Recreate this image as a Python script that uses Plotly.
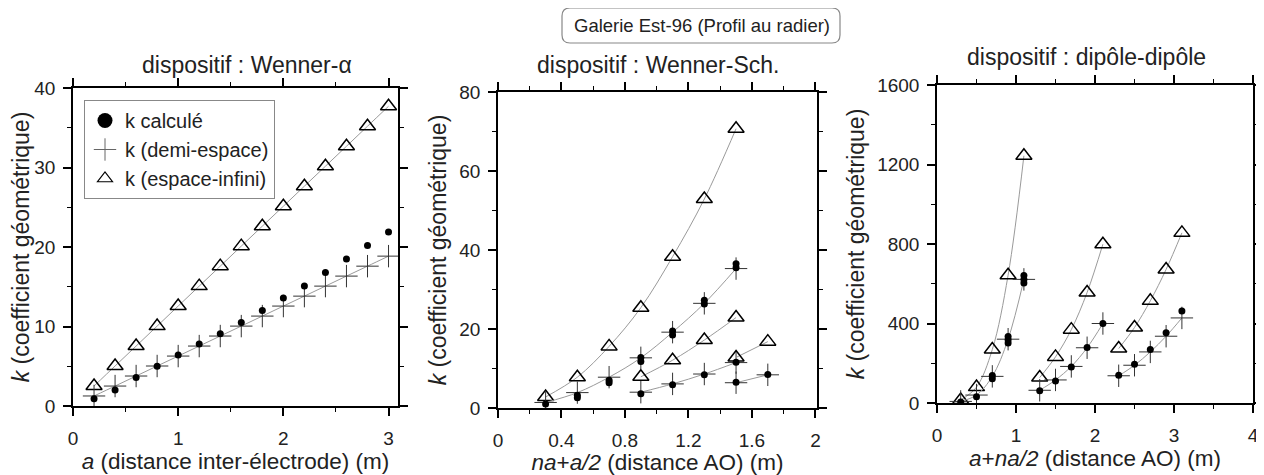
import plotly.graph_objects as go

# Wenner-alpha
a_wa = [0.2, 0.4, 0.6, 0.8, 1.0, 1.2, 1.4, 1.6, 1.8, 2.0, 2.2, 2.4, 2.6, 2.8, 3.0]
k_wa_calc = [0.9, 2.0, 3.6, 5.0, 6.4, 7.8, 9.1, 10.5, 12.0, 13.6, 15.1, 16.8, 18.5, 20.2, 21.9]
k_wa_demi = [1.26, 2.51, 3.77, 5.03, 6.28, 7.54, 8.8, 10.05, 11.31, 12.57, 13.82, 15.08, 16.34, 17.59, 18.85]
k_wa_inf = [2.51, 5.03, 7.54, 10.05, 12.57, 15.08, 17.59, 20.11, 22.62, 25.13, 27.65, 30.16, 32.67, 35.19, 37.7]

# Wenner-Schlumberger (3 groupes)
x_ws1 = [0.3, 0.5, 0.7, 0.9, 1.1, 1.3, 1.5]
k_ws1_inf = [2.8, 7.8, 15.6, 25.4, 38.3, 52.9, 70.7]
k_ws1_demi = [1.4, 3.9, 7.8, 12.7, 19.2, 26.5, 35.3]
x_ws1_calc = [0.3, 0.5, 0.5, 0.7, 0.7, 0.9, 0.9, 1.1, 1.1, 1.3, 1.3, 1.5, 1.5]
k_ws1_calc = [1.0, 2.6, 3.2, 6.4, 7.0, 11.8, 12.8, 18.5, 19.5, 26.3, 27.3, 35.5, 36.5]
x_ws2 = [0.9, 1.1, 1.3, 1.5]
k_ws2_inf = [7.9, 12.1, 17.2, 22.9]
k_ws2_demi = [4.0, 6.1, 8.6, 11.5]
k_ws2_calc = [3.6, 5.9, 8.4, 11.6]
x_ws3 = [1.5, 1.7]
k_ws3_inf = [12.8, 16.8]
k_ws3_demi = [6.4, 8.4]
k_ws3_calc = [6.5, 8.5]

# dipole-dipole (3 groupes)
x_dd1 = [0.3, 0.5, 0.7, 0.9, 1.1]
k_dd1_inf = [15, 80, 269, 643, 1244]
k_dd1_demi = [8, 40, 134, 321, 622]
x_dd1_calc = [0.3, 0.5, 0.7, 0.7, 0.9, 0.9, 0.9, 1.1, 1.1, 1.1]
k_dd1_calc = [5, 32, 122, 138, 302, 318, 334, 604, 622, 642]
x_dd2 = [1.3, 1.5, 1.7, 1.9, 2.1]
k_dd2_inf = [128, 232, 369, 556, 799]
k_dd2_demi = [64, 116, 184, 278, 400]
k_dd2_calc = [62, 111, 181, 279, 400]
x_dd3 = [2.3, 2.5, 2.7, 2.9, 3.1]
k_dd3_inf = [274, 380, 514, 672, 856]
k_dd3_demi = [137, 190, 257, 336, 428]
k_dd3_calc = [139, 195, 269, 353, 463]

# the page body has an 8px margin, so the figure is 8px smaller than the window
OFF = 8
W, H = 1264 - OFF, 475 - OFF
FONT = "Liberation Sans, Arial, sans-serif"
GREY = "#9a9a9a"
PLUS = "#333333"

fig = go.Figure()


def add_group(x, k_inf, k_demi, xc, kc, n):
    xa, ya = "x" + ("" if n == 1 else str(n)), "y" + ("" if n == 1 else str(n))
    fig.add_trace(go.Scatter(x=x, y=k_inf, xaxis=xa, yaxis=ya, mode="lines+markers",
                             line=dict(color=GREY, width=1, shape="spline"),
                             marker=dict(symbol="triangle-up-open", size=14, color="black",
                                         line=dict(width=1.5, color="black")),
                             showlegend=False))
    fig.add_trace(go.Scatter(x=x, y=k_demi, xaxis=xa, yaxis=ya, mode="lines+markers",
                             line=dict(color=GREY, width=1, shape="spline"),
                             marker=dict(symbol="cross-thin-open", size=16, color=PLUS,
                                         line=dict(width=1, color=PLUS)),
                             showlegend=False))
    fig.add_trace(go.Scatter(x=xc, y=kc, xaxis=xa, yaxis=ya, mode="markers",
                             marker=dict(symbol="circle", size=7, color="black"),
                             showlegend=False))


add_group(a_wa, k_wa_inf, k_wa_demi, a_wa, k_wa_calc, 1)
add_group(x_ws1, k_ws1_inf, k_ws1_demi, x_ws1_calc, k_ws1_calc, 2)
add_group(x_ws2, k_ws2_inf, k_ws2_demi, x_ws2, k_ws2_calc, 2)
add_group(x_ws3, k_ws3_inf, k_ws3_demi, x_ws3, k_ws3_calc, 2)
add_group(x_dd1, k_dd1_inf, k_dd1_demi, x_dd1_calc, k_dd1_calc, 3)
add_group(x_dd2, k_dd2_inf, k_dd2_demi, x_dd2, k_dd2_calc, 3)
add_group(x_dd3, k_dd3_inf, k_dd3_demi, x_dd3, k_dd3_calc, 3)

# legend only entries
fig.add_trace(go.Scatter(x=[None], y=[None], mode="markers", name="k calculé",
                         marker=dict(symbol="circle", size=15, color="black")))
fig.add_trace(go.Scatter(x=[None], y=[None], mode="markers", name="k (demi-espace)",
                         marker=dict(symbol="cross-thin-open", size=16, color="#666666",
                                     line=dict(width=1, color="#666666"))))
fig.add_trace(go.Scatter(x=[None], y=[None], mode="markers", name="k (espace-infini)",
                         marker=dict(symbol="triangle-up-open", size=13, color="black",
                                     line=dict(width=1.2, color="black"))))


def px_x(p):
    return (p - OFF) / W


def px_y(p):
    return 1 - (p - OFF) / H


def common(dtick):
    return dict(dtick=dtick, tick0=0, automargin=False,
                showgrid=False, zeroline=False, showline=True, linecolor="black", linewidth=1.5,
                mirror="allticks", ticks="outside", ticklen=8, tickwidth=1.5, tickcolor="black",
                minor=dict(dtick=dtick / 2, ticks="outside", ticklen=4, tickwidth=1, tickcolor="black"),
                tickfont=dict(size=19, family=FONT, color="#222"))


def xax(left, right, rng, dtick, title):
    d = common(dtick)
    d.update(domain=[px_x(left), px_x(right)], range=rng, ticklabelstandoff=6,
             title=dict(text=title, font=dict(size=22.5, family=FONT, color="#222"), standoff=5))
    return d


def yax(top, bottom, rng, dtick):
    d = common(dtick)
    d.update(domain=[px_y(bottom), px_y(top)], range=rng, ticklabelstandoff=4,
             title=dict(text="<i>k</i> (coefficient géométrique)",
                        font=dict(size=23, family=FONT, color="#222"), standoff=6))
    return d


xa1 = xax(73, 398, [0, 3.09], 1, "<i>a</i> (distance inter-électrode) (m)")
xa2 = xax(498, 817, [0, 2.01], 0.4, "<i>na</i>+<i>a/2</i> (distance AO) (m)")
xa3 = xax(937, 1253, [0, 4], 1, "<i>a</i>+<i>na/2</i> (distance AO) (m)")
ya1 = yax(88, 406, [0, 40], 10)
ya2 = yax(92, 408, [0, 80], 20)
ya3 = yax(85, 403, [0, 1600], 400)
xa1["anchor"], ya1["anchor"] = "y", "x"
xa2["anchor"], ya2["anchor"] = "y2", "x2"
xa3["anchor"], ya3["anchor"] = "y3", "x3"

titles = [("dispositif : Wenner-α", 247, 65), ("dispositif : Wenner-Sch.", 658, 65),
          ("dispositif : dipôle-dipôle", 1086, 57)]
annotations = [dict(text=t, x=px_x(cx), y=px_y(cy), xref="paper", yref="paper",
                    showarrow=False, xanchor="center", yanchor="middle",
                    font=dict(size=23, family=FONT, color="#222")) for t, cx, cy in titles]
annotations.append(dict(text="Galerie Est-96 (Profil au radier)", x=px_x(702), y=px_y(25),
                        xref="paper", yref="paper", showarrow=False, xanchor="center",
                        yanchor="middle", font=dict(size=18.5, family=FONT, color="#222")))

# rounded box round the main title
x0, x1, y0, y1, r = px_x(562), px_x(840), px_y(8), px_y(43), 8
rx, ry = r / W, r / H
box = (f"M {x0 + rx},{y0} L {x1 - rx},{y0} Q {x1},{y0} {x1},{y0 - ry} "
       f"L {x1},{y1 + ry} Q {x1},{y1} {x1 - rx},{y1} L {x0 + rx},{y1} "
       f"Q {x0},{y1} {x0},{y1 + ry} L {x0},{y0 - ry} Q {x0},{y0} {x0 + rx},{y0} Z")

fig.update_layout(
    width=W, height=H, margin=dict(l=0, r=0, t=0, b=0, autoexpand=False),
    plot_bgcolor="white", paper_bgcolor="white",
    xaxis=xa1, yaxis=ya1, xaxis2=xa2, yaxis2=ya2, xaxis3=xa3, yaxis3=ya3,
    annotations=annotations,
    shapes=[dict(type="path", path=box, xref="paper", yref="paper",
                 line=dict(color="#888888", width=1.2))],
    legend=dict(x=px_x(84), y=px_y(100), xanchor="left", yanchor="top",
                bordercolor="#888888", borderwidth=1, bgcolor="white",
                font=dict(size=20, family=FONT, color="#222"), itemwidth=30,
                tracegroupgap=0),
)

fig.write_html("out.html")
